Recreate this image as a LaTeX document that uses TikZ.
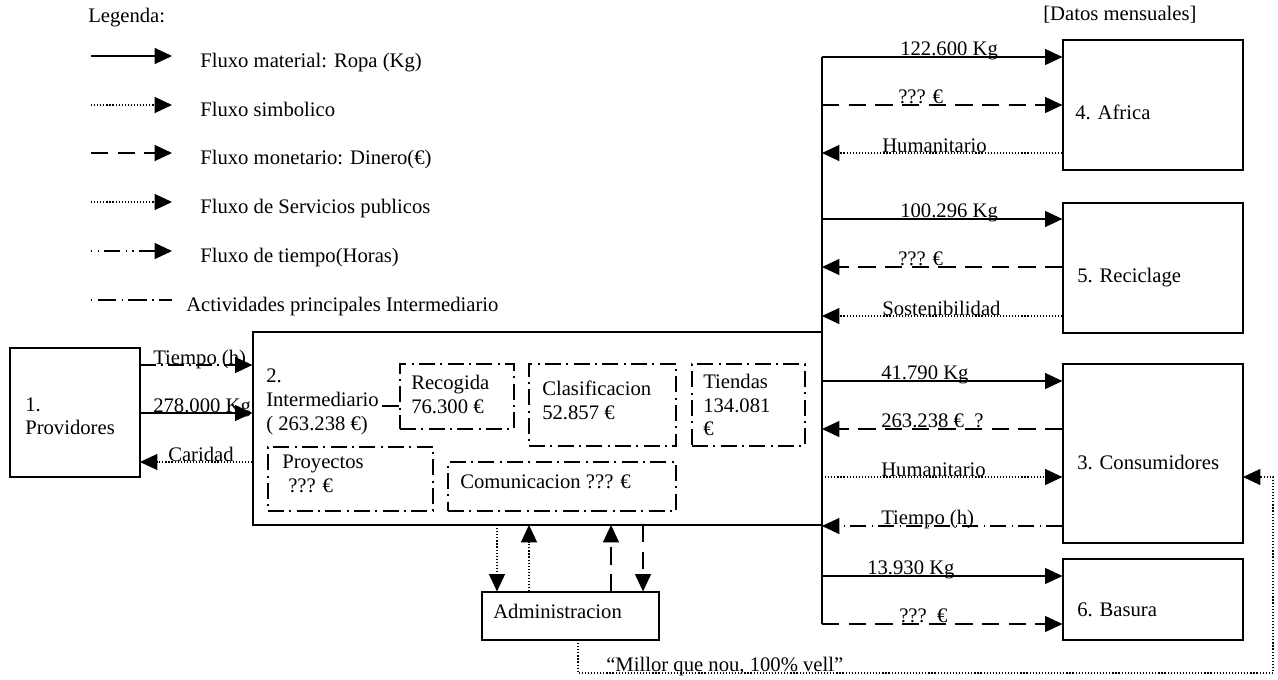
\documentclass[tikz,border=0pt]{standalone}
\usepackage{fontspec}
\setmainfont{Liberation Serif}
\usetikzlibrary{arrows.meta,fit}
\tikzset{
  base/.style={line width=0.9pt},
  tip/.style={-{Triangle[length=13pt,width=12pt]}},
  matflow/.style={base,tip},
  simbflow/.style={base,tip,dash pattern=on 0.9pt off 1.4pt},
  monflow/.style={base,tip,dash pattern=on 13pt off 7pt},
  timeflow/.style={base,tip,dash pattern=on 12pt off 4pt on 1pt off 4pt},
  box/.style={draw,base,inner sep=0pt},
  actbox/.style={draw,base,inner sep=0pt,dash pattern=on 12pt off 4pt on 1.5pt off 4pt},
  txt/.style={anchor=base west,inner sep=0pt,font=\fontsize{15.5}{18}\selectfont},
}
\begin{document}
\begin{tikzpicture}[x=0.75pt,y=-0.75pt]
\useasboundingbox (0,0) rectangle (1278,679);

% ---------- legend ----------
\node[txt] (leg) at (88,22) {Legenda:};
\node[txt] (datos) at (1043,20) {[Datos mensuales]};
\coordinate (l1a) at (91,56);  \coordinate (l1b) at (172,56);
\coordinate (l2a) at (91,105); \coordinate (l2b) at (172,105);
\coordinate (l3a) at (91,153); \coordinate (l3b) at (172,153);
\coordinate (l4a) at (91,202); \coordinate (l4b) at (172,202);
\coordinate (l5a) at (91,251); \coordinate (l5b) at (172,251);
\coordinate (l6a) at (91,300); \coordinate (l6b) at (172,300);
\draw[matflow] (l1a) -- (l1b);
\draw[simbflow] (l2a) -- (l2b);
\draw[monflow] (l3a) -- (l3b);
\draw[simbflow] (l4a) -- (l4b);
\draw[base,tip,dash pattern=on 1pt off 4pt on 1pt off 4pt on 12pt off 4pt] (l5a) -- (l5b);
\draw[base,dash pattern=on 1pt off 4pt on 14pt off 4pt] (l6a) -- (l6b);
\node[txt] (lt1) at (200,67) {Fluxo material: Ropa (Kg)};
\node[txt] (lt2) at (200,116) {Fluxo simbolico};
\node[txt] (lt3) at (200,164) {Fluxo monetario: Dinero(€)};
\node[txt] (lt4) at (200,213) {Fluxo de Servicios publicos};
\node[txt] (lt5) at (200,262) {Fluxo de tiempo(Horas)};
\node[txt] (lt6) at (186,311) {Actividades principales Intermediario};

% ---------- boxes ----------
\node[box,fit={(10,348) (140,477)}] (prov) {};
\node[txt] (provt1) at (25,411) {1.};
\node[txt] (provt2) at (25,434) {Providores};

\node[box,fit={(253,332) (822,525)}] (inter) {};
\node[txt] (intert1) at (266,382) {2.};
\node[txt] (intert2) at (266,406) {Intermediario};
\node[txt] (intert3) at (266,430) {( 263.238 €)};

\node[actbox,fit={(400,364) (514,429)}] (recog) {};
\node[txt] (recogt1) at (411,389) {Recogida};
\node[txt] (recogt2) at (411,413) {76.300 €};
\node[actbox,fit={(529,364) (676,446)}] (clasif) {};
\node[txt] (clasift1) at (542,395) {Clasificacion};
\node[txt] (clasift2) at (542,419) {52.857 €};
\node[actbox,fit={(692,364) (805,446)}] (tiendas) {};
\node[txt] (tiendast1) at (703,388) {Tiendas};
\node[txt] (tiendast2) at (703,412) {134.081};
\node[txt] (tiendast3) at (703,435) {€};
\node[actbox,fit={(268,447) (433,511)}] (proy) {};
\node[txt] (proyt1) at (282,468) {Proyectos};
\node[txt] (proyt2) at (288,492) {??? €};
\node[actbox,fit={(448,462) (676,511)}] (comun) {};
\node[txt] (comunt) at (460,488) {Comunicacion ??? €};

\coordinate (rl) at (382,406);
\draw[base] (rl) -- (rl -| recog.west);

\node[box,fit={(1063,40) (1243,170)}] (africa) {};
\node[txt] (africat) at (1075,119) {4. Africa};
\node[box,fit={(1063,203) (1243,333)}] (recic) {};
\node[txt] (recict) at (1077,282) {5. Reciclage};
\node[box,fit={(1063,364) (1243,543)}] (cons) {};
\node[txt] (const) at (1077,469) {3. Consumidores};
\node[box,fit={(1063,559) (1243,640)}] (basura) {};
\node[txt] (basurat) at (1077,616) {6. Basura};

\node[box,fit={(482,592) (659,640)}] (admin) {};
\node[txt] (admint) at (493,618) {Administracion};

% ---------- left flows ----------
\coordinate (p1) at (140,365);
\coordinate (p2) at (140,413);
\coordinate (p3) at (140,462);
\draw[timeflow] (p1) -- (p1 -| inter.west);
\draw[matflow] (p2) -- (p2 -| inter.west);
\draw[simbflow] (p3 -| inter.west) -- (p3);
\node[txt] (lp1) at (153,364) {Tiempo (h)};
\node[txt] (lp2) at (153,412) {278.000 Kg};
\node[txt] (lp3) at (168,461) {Caridad};

% ---------- trunk and right flows ----------
\coordinate (t0) at (822,57);
\coordinate (t9) at (822,624);
\draw[base] (t0) -- (t9);
\coordinate (r1) at (822,57);
\coordinate (r2) at (822,105);
\coordinate (r3) at (822,153);
\coordinate (r4) at (822,219);
\coordinate (r5) at (822,267);
\coordinate (r6) at (822,316);
\coordinate (r7) at (822,381);
\coordinate (r8) at (822,429);
\coordinate (r9) at (822,477);
\coordinate (r10) at (822,526);
\coordinate (r11) at (822,576);
\coordinate (r12) at (822,624);
\draw[matflow] (r1) -- (r1 -| africa.west);
\draw[monflow] (r2) -- (r2 -| africa.west);
\draw[simbflow] (r3 -| africa.west) -- (r3);
\draw[matflow] (r4) -- (r4 -| recic.west);
\draw[monflow] (r5 -| recic.west) -- (r5);
\draw[simbflow] (r6 -| recic.west) -- (r6);
\draw[matflow] (r7) -- (r7 -| cons.west);
\draw[monflow] (r8 -| cons.west) -- (r8);
\draw[simbflow] (r9) -- (r9 -| cons.west);
\draw[timeflow] (r10 -| cons.west) -- (r10);
\draw[matflow] (r11) -- (r11 -| basura.west);
\draw[monflow] (r12) -- (r12 -| basura.west);
\node[txt] (lr1) at (900,55) {122.600 Kg};
\node[txt] (lr2) at (898,103) {??? €};
\node[txt] (lr3) at (882,152) {Humanitario};
\node[txt] (lr4) at (900,217) {100.296 Kg};
\node[txt] (lr5) at (898,265) {??? €};
\node[txt] (lr6) at (882,315) {Sostenibilidad};
\node[txt] (lr7) at (881,379) {41.790 Kg};
\node[txt] (lr8) at (881,427) {263.238 €\ \ ?};
\node[txt] (lr9) at (881,476) {Humanitario};
\node[txt] (lr10) at (881,524) {Tiempo (h)};
\node[txt] (lr11) at (867,574) {13.930 Kg};
\node[txt] (lr12) at (899,622) {???\ \ €};

% ---------- administracion flows ----------
\coordinate (a1) at (497,525);
\coordinate (a2) at (529,525);
\coordinate (a3) at (611,525);
\coordinate (a4) at (643,525);
\draw[simbflow] (a1) -- (a1 |- admin.north);
\draw[simbflow] (a2 |- admin.north) -- (a2);
\draw[monflow] (a3 |- admin.north) -- (a3);
\draw[monflow] (a4) -- (a4 |- admin.north);

\coordinate (m0) at (578,640);
\coordinate (m1) at (1273,673);
\coordinate (m2) at (1243,477);
\draw[simbflow] (m0) |- (m1) |- (m2);
\node[txt] (lm) at (606,671) {“Millor que nou, 100\% vell”};
\end{tikzpicture}
\end{document}
